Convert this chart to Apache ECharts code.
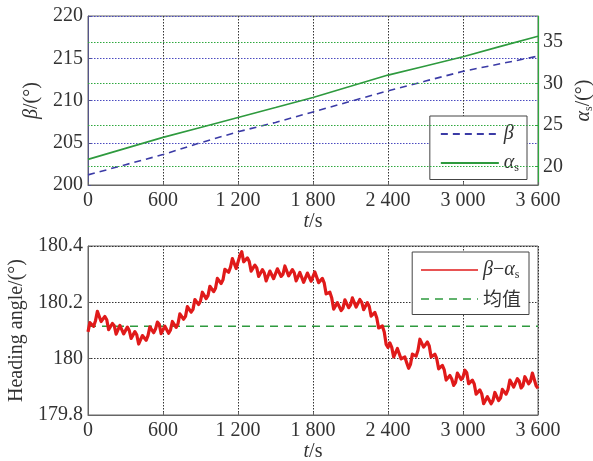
<!DOCTYPE html>
<html>
<head>
<meta charset="utf-8">
<script src="https://cdn.jsdelivr.net/npm/echarts@6/dist/echarts.min.js"></script>
<style>
html,body{margin:0;padding:0;background:#fff;}
#c{width:593px;height:461px;}
</style>
</head>
<body>
<div id="c"></div>
<script>
// ---- data ----
var topTime = [0, 300, 600, 900, 1200, 1500, 1800, 2100, 2400, 2700, 3000, 3300, 3600];
var betaVals = [201.2, 202.4, 203.6, 205.0, 206.3, 207.4, 208.65, 209.9, 211.15, 212.3, 213.45, 214.35, 215.25];
var alphaVals = [20.88, 22.2, 23.52, 24.7, 25.92, 27.1, 28.32, 29.65, 31.0, 32.1, 33.2, 34.45, 35.68];
var rightTicksTop = [20, 25, 30, 35];
var sampleStep = 15; // s between samples of the difference record
var diffVals = [
180.095,180.128,180.13,180.115,180.135,180.168,180.168,180.132,180.13,180.15,180.138,180.103,180.1,180.125,180.117,180.087,180.09,180.118,180.115,180.088,
180.092,180.112,180.1,180.072,180.075,180.096,180.085,180.052,180.052,180.082,180.08,180.065,180.082,180.113,180.112,180.092,180.105,180.13,180.122,180.089,
180.088,180.115,180.11,180.09,180.102,180.132,180.13,180.111,180.124,180.159,180.162,180.14,180.15,180.185,180.188,180.165,180.175,180.21,180.212,180.192,
180.205,180.236,180.234,180.213,180.224,180.257,180.258,180.238,180.25,180.285,180.287,180.267,180.28,180.317,180.322,180.307,180.325,180.355,180.352,180.32,
180.32,180.366,180.38,180.344,180.34,180.358,180.345,180.311,180.31,180.332,180.322,180.292,180.295,180.316,180.305,180.276,180.28,180.311,180.31,180.284,
180.29,180.319,180.316,180.292,180.3,180.329,180.326,180.294,180.295,180.316,180.305,180.276,180.28,180.306,180.3,180.271,180.275,180.304,180.3,180.275,
180.282,180.308,180.302,180.27,180.27,180.285,180.268,180.23,180.225,180.236,180.215,180.176,180.17,180.199,180.195,180.171,180.18,180.209,180.205,180.181,
180.19,180.216,180.21,180.183,180.188,180.21,180.2,180.174,180.18,180.199,180.185,180.151,180.15,180.164,180.145,180.109,180.105,180.116,180.095,180.051,
180.04,180.056,180.04,180.006,180.005,180.036,180.035,179.999,179.995,180.006,179.985,179.966,179.98,180.016,180.02,180.009,180.03,180.069,180.075,180.041,
180.04,180.059,180.045,180.006,180.0,180.016,180.0,179.964,179.96,179.976,179.96,179.924,179.92,179.94,179.928,179.905,179.915,179.949,179.95,179.926,
179.935,179.959,179.95,179.911,179.905,179.924,179.91,179.874,179.87,179.889,179.875,179.84,179.838,179.865,179.86,179.84,179.852,179.88,179.875,179.851,
179.86,179.891,179.89,179.874,179.89,179.924,179.925,179.899,179.905,179.929,179.92,179.896,179.905,179.936,179.935,179.911,179.92,179.949,179.945,179.904,
179.895];
var meanVal = 180.115;

function zip(a, b) { return a.map(function (v, i) { return [v, b[i]]; }); }
var bottomTime = diffVals.map(function (v, i) { return i * sampleStep; });

var FONT = 'Liberation Serif';
var TXT = '#333';
var rich = {
  i: { fontFamily: FONT, fontStyle: 'italic', fontSize: 20, color: TXT },
  n: { fontFamily: FONT, fontSize: 20, color: TXT },
  s: { fontFamily: FONT, fontSize: 12, color: TXT, padding: [9, 0, 0, 0] },
  c: { fontFamily: 'Noto Sans CJK SC', fontSize: 19, color: TXT }
};
function fmtX(v) { return v >= 1000 ? Math.floor(v / 1000) + ' ' + String(v % 1000).padStart(3, '0') : String(v); }

var axisLineGray = { show: true, lineStyle: { color: '#666', width: 1 } };
var labelStyle = { fontFamily: FONT, fontSize: 20, color: TXT };
var gridDot = { color: '#333', type: [1.5, 1.5], width: 1 };

var chart = echarts.init(document.getElementById('c'), null, { renderer: 'canvas' });
chart.setOption({
  animation: false,
  backgroundColor: '#fff',
  grid: [
    { left: 88, right: 55, top: 16, height: 169, show: true, borderColor: '#666', borderWidth: 1, outerBoundsMode: 'none' },
    { left: 88, right: 55, top: 246, height: 169, show: true, borderColor: '#666', borderWidth: 1, outerBoundsMode: 'none' }
  ],
  xAxis: [0, 1].map(function (g) {
    return { type: 'value', gridIndex: g, min: 0, max: 3600, interval: 600,
      axisLine: axisLineGray, axisTick: { inside: true, length: 3, lineStyle: { color: '#666' } },
      axisLabel: Object.assign({ margin: 6, formatter: fmtX }, labelStyle),
      splitLine: { show: true, lineStyle: gridDot },
      name: '{i|t}{n|/s}', nameLocation: 'middle', nameGap: 20, nameTextStyle: { rich: rich } };
  }),
  yAxis: [
    { type: 'value', gridIndex: 0, min: 200, max: 220, interval: 5,
      axisLine: { show: true, lineStyle: { color: '#55558a' } }, axisTick: { inside: true, length: 3 },
      axisLabel: Object.assign({ margin: 5 }, labelStyle),
      splitLine: { show: true, lineStyle: { color: '#4a4ac0', type: [1.5, 1.5], width: 1 } },
      name: '{i|β}{n|/(°)}', nameLocation: 'middle', nameGap: 40, nameRotate: 90, nameTextStyle: { rich: rich } },
    { type: 'value', gridIndex: 0, position: 'right', min: 17.8, max: 38.1,
      axisLine: { show: true, onZero: false, lineStyle: { color: '#2ea83e', width: 1.2 } },
      axisTick: { show: true, inside: true, length: 3, customValues: rightTicksTop, lineStyle: { color: '#2ea83e' } },
      axisLabel: Object.assign({ margin: 5, customValues: rightTicksTop }, labelStyle),
      splitLine: { show: false },
      name: '{i|α}{s|s}{n|/(°)}', nameLocation: 'middle', nameGap: 28, nameRotate: 90, nameTextStyle: { rich: rich } },
    { type: 'value', gridIndex: 1, min: 179.8, max: 180.4, interval: 0.2,
      axisLine: axisLineGray, axisTick: { inside: true, length: 3 },
      axisLabel: Object.assign({ margin: 5 }, labelStyle),
      splitLine: { show: true, lineStyle: gridDot },
      name: 'Heading angle/(°)', nameLocation: 'middle', nameGap: 50, nameRotate: 90,
      nameTextStyle: { fontFamily: FONT, fontSize: 20, color: TXT } }
  ],
  legend: [
    { data: ['β', 'αs'], right: 66, top: 116, orient: 'vertical', itemWidth: 58, itemHeight: 12, itemGap: 9,
      padding: [8, 8, 6, 10], backgroundColor: '#fff', borderColor: '#444', borderWidth: 1, borderRadius: 0,
      itemStyle: { opacity: 0 },
      formatter: function (n) { return n === 'β' ? '{i|β}' : '{i|α}{s|s}'; },
      textStyle: { rich: rich } },
    { data: ['β−αs', '均值'], right: 64, top: 252, orient: 'vertical', itemWidth: 57, itemHeight: 12, itemGap: 9,
      padding: [8, 8, 6, 8], backgroundColor: '#fff', borderColor: '#444', borderWidth: 1, borderRadius: 0,
      itemStyle: { opacity: 0 },
      lineStyle: { width: 1.6 },
      formatter: function (n) { return n === '均值' ? '{c|均值}' : '{i|β}{n|−}{i|α}{s|s}'; },
      textStyle: { rich: rich } }
  ],
  series: [
    { name: 'β', type: 'line', xAxisIndex: 0, yAxisIndex: 0, data: zip(topTime, betaVals),
      symbol: 'none', lineStyle: { color: '#3b3ba6', width: 1.6, type: [7, 5] }, itemStyle: { color: '#3b3ba6' }, z: 3 },
    { name: 'αs', type: 'line', xAxisIndex: 0, yAxisIndex: 1, data: zip(topTime, alphaVals),
      symbol: 'none', lineStyle: { color: '#2e9a3e', width: 1.6 }, itemStyle: { color: '#2e9a3e' }, z: 3,
      markLine: { silent: true, symbol: 'none', label: { show: false },
        lineStyle: { color: '#2ea83e', type: [1.5, 1.5], width: 1 },
        data: rightTicksTop.map(function (v) { return { yAxis: v }; }) } },
    { name: 'β−αs', type: 'line', xAxisIndex: 1, yAxisIndex: 2, data: zip(bottomTime, diffVals),
      symbol: 'none', sampling: false, lineStyle: { color: '#e01a1a', width: 3.2, join: 'round' }, itemStyle: { color: '#e01a1a' }, z: 3 },
    { name: '均值', type: 'line', xAxisIndex: 1, yAxisIndex: 2, data: [[0, meanVal], [3600, meanVal]],
      symbol: 'none', lineStyle: { color: '#2e9a3e', width: 1.6, type: [8, 6] }, itemStyle: { color: '#2e9a3e' }, z: 2 }
  ]
});
</script>
</body>
</html>
